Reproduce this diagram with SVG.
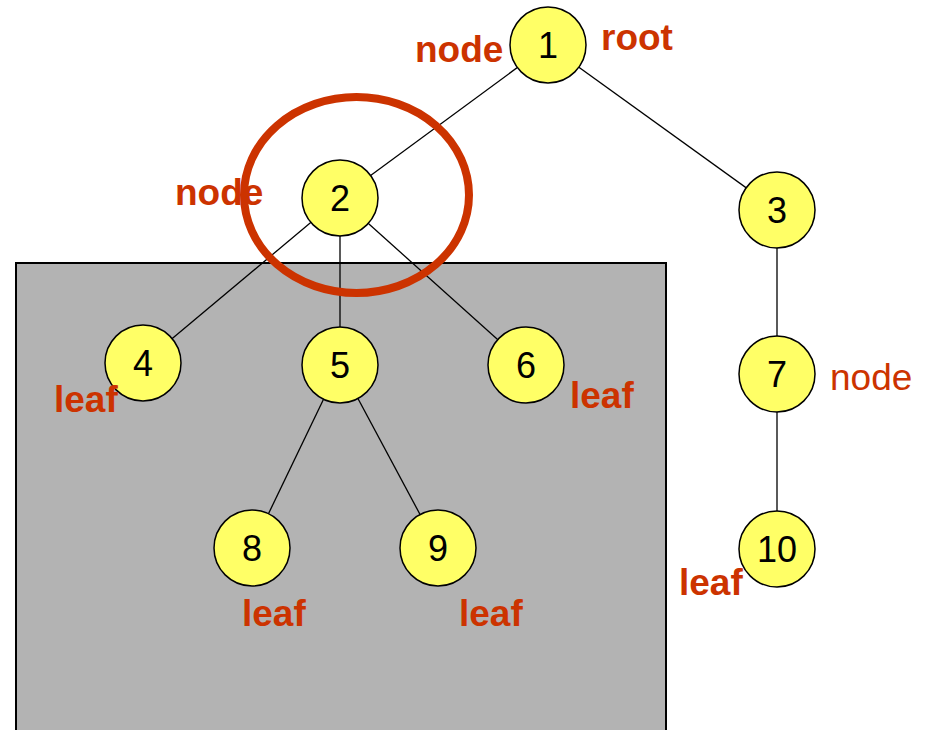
<svg xmlns="http://www.w3.org/2000/svg" width="930" height="730" viewBox="0 0 930 730">
<style>
.n circle{fill:#ffff66;stroke:#000;stroke-width:1.5}
.n text{font-family:"Liberation Sans",Arial,sans-serif;font-size:36px;fill:#000;text-anchor:middle}
.lb{font-family:"Liberation Sans",Arial,sans-serif;font-size:37px;font-weight:bold;fill:#cc3300}
.lr{font-family:"Liberation Sans",Arial,sans-serif;font-size:37px;fill:#cc3300}
#edges line{stroke:#000;stroke-width:1.3}
</style>
<rect width="930" height="730" fill="#fff"/>
<rect id="box" x="16" y="263" width="650" height="480" fill="#b3b3b3" stroke="#000" stroke-width="2"/>
<g id="edges">
<line x1="548" y1="45" x2="340" y2="198"/>
<line x1="548" y1="45" x2="777" y2="210"/>
<line x1="340" y1="198" x2="143" y2="363"/>
<line x1="340" y1="198" x2="340" y2="365"/>
<line x1="340" y1="198" x2="526" y2="365"/>
<line x1="340" y1="365" x2="252" y2="548"/>
<line x1="340" y1="365" x2="438" y2="548"/>
<line x1="777" y1="210" x2="777" y2="374"/>
<line x1="777" y1="374" x2="777" y2="549"/>
</g>
<g id="n1" class="n"><circle cx="548" cy="45" r="38"/><text x="548" y="58">1</text></g>
<g id="n2" class="n"><circle cx="340" cy="198" r="38"/><text x="340" y="211">2</text></g>
<g id="n3" class="n"><circle cx="777" cy="210" r="38"/><text x="777" y="223">3</text></g>
<g id="n4" class="n"><circle cx="143" cy="363" r="38"/><text x="143" y="376">4</text></g>
<g id="n5" class="n"><circle cx="340" cy="365" r="38"/><text x="340" y="378">5</text></g>
<g id="n6" class="n"><circle cx="526" cy="365" r="38"/><text x="526" y="378">6</text></g>
<g id="n7" class="n"><circle cx="777" cy="374" r="38"/><text x="777" y="387">7</text></g>
<g id="n8" class="n"><circle cx="252" cy="548" r="38"/><text x="252" y="561">8</text></g>
<g id="n9" class="n"><circle cx="438" cy="548" r="38"/><text x="438" y="561">9</text></g>
<g id="n10" class="n"><circle cx="777" cy="549" r="38"/><text x="777" y="562">10</text></g>
<g id="labels">
<text class="lb" x="415" y="62">node</text>
<text class="lb" x="601" y="50">root</text>
<text class="lb" x="175" y="205">node</text>
<text class="lb" x="54" y="412">leaf</text>
<text class="lb" x="570" y="408">leaf</text>
<text class="lr" x="830" y="390">node</text>
<text class="lb" x="242" y="626">leaf</text>
<text class="lb" x="459" y="626">leaf</text>
<text class="lb" x="679" y="595">leaf</text>
</g>
<ellipse id="highlight" cx="356.5" cy="195" rx="112.5" ry="98" fill="none" stroke="#cc3300" stroke-width="8"/>
</svg>
